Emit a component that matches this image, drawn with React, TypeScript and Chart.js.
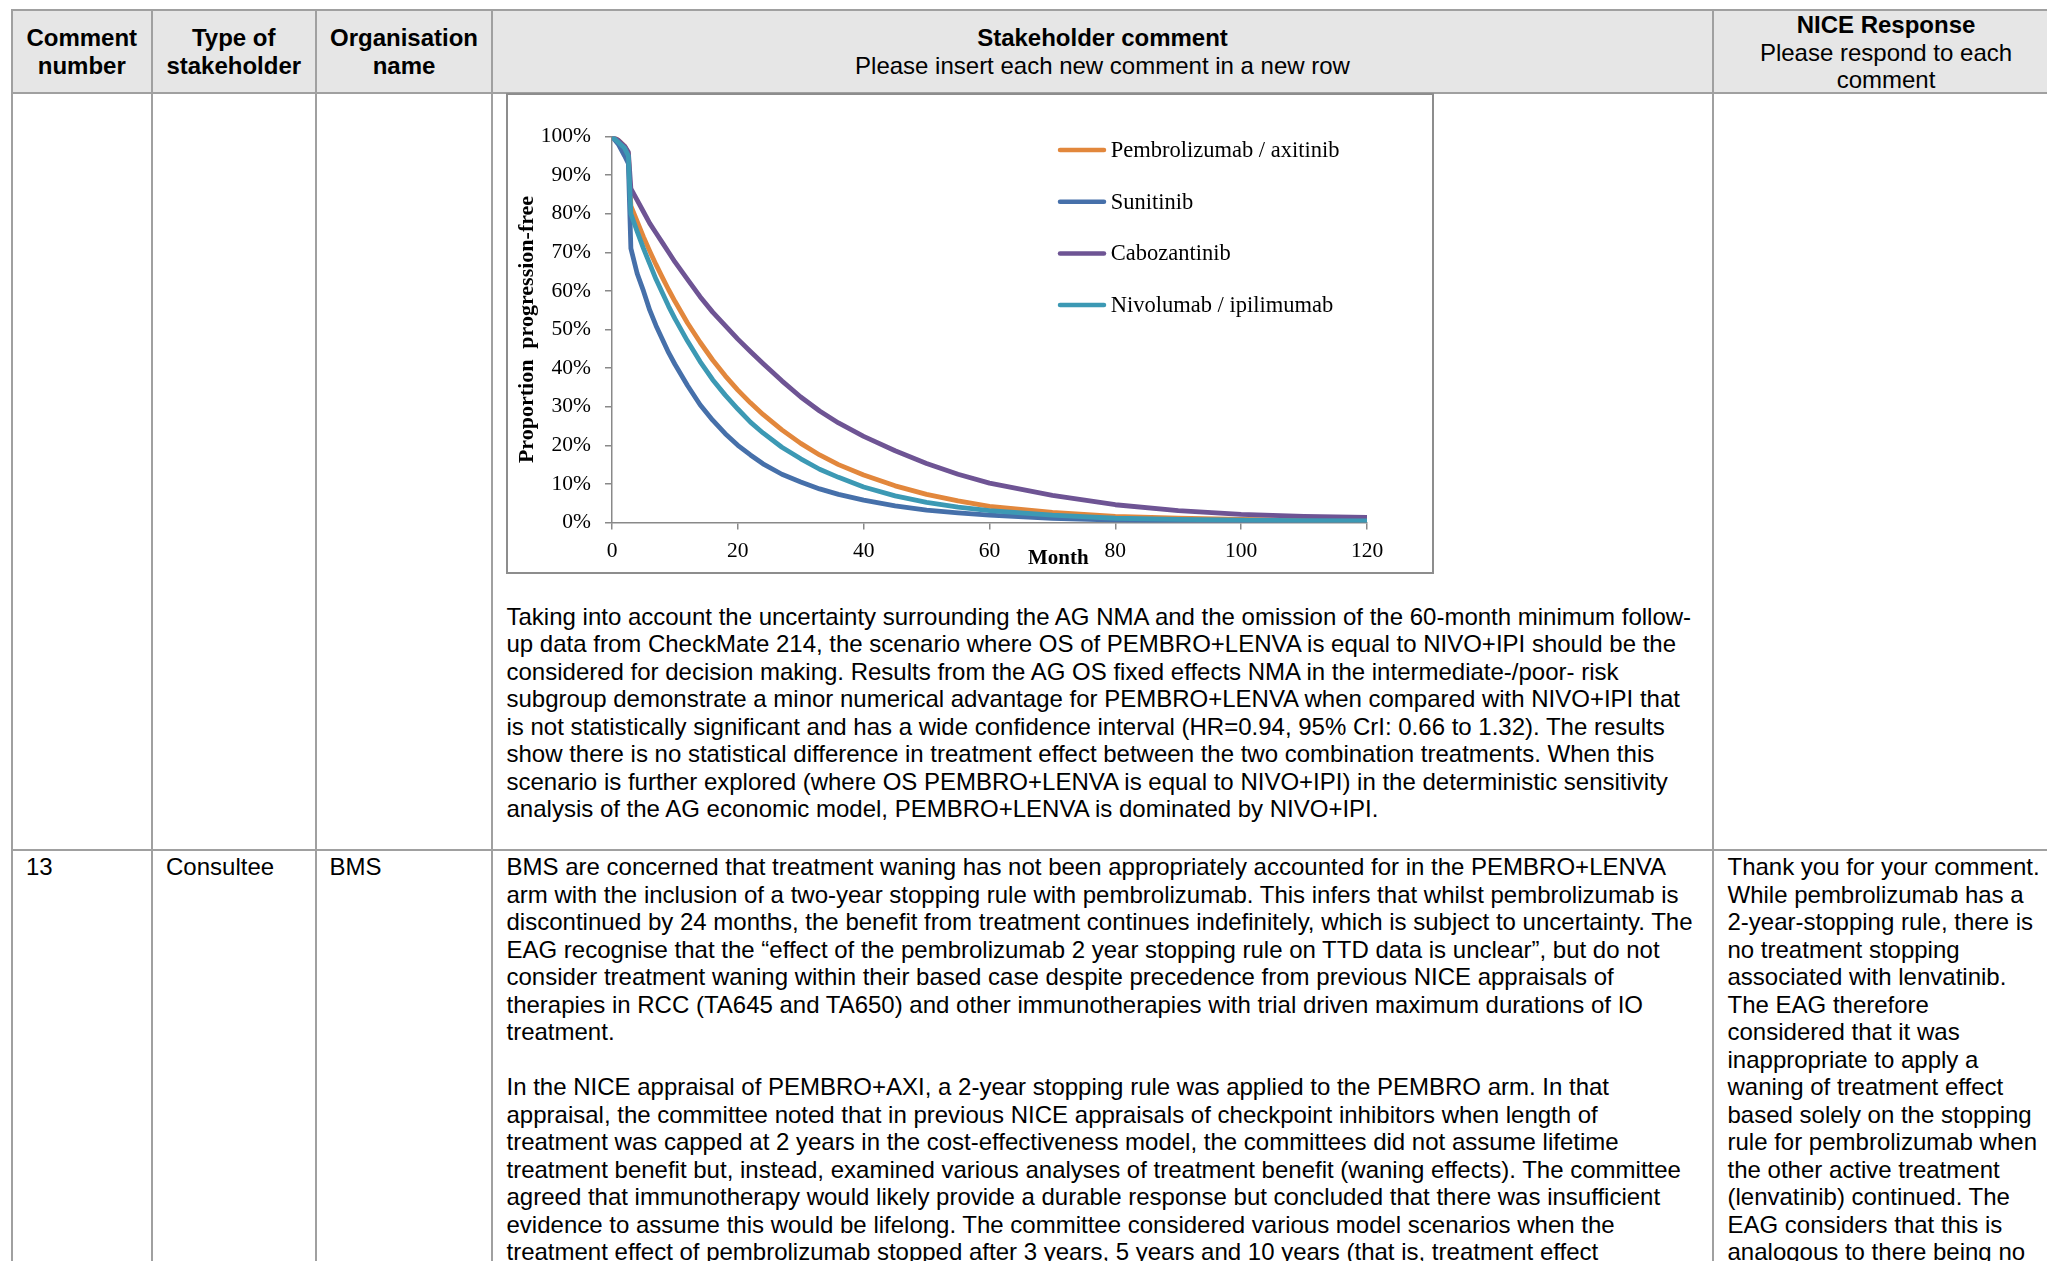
import React, { useEffect, useRef } from "react";
import { Chart, registerables } from "chart.js";

Chart.register(...registerables);

// ---------------- chart data ----------------
const months = [0, 1, 2, 2.6, 3, 4, 5, 6, 7, 8, 9, 10, 12, 14, 16, 18, 20, 22, 24, 27, 30, 33, 36, 40, 45, 50, 55, 60, 70, 80, 90, 100, 110, 120];

const pembroAxi = [100, 99, 97.5, 95.5, 82, 78, 74, 70.3, 66.8, 63.5, 60.3, 57.3, 51.7, 46.7, 42.1, 38, 34.3, 31, 28, 24, 20.5, 17.5, 15, 12.3, 9.5, 7.3, 5.6, 4.2, 2.6, 1.6, 1.1, 0.8, 0.6, 0.5];
const sunitinib = [100, 98, 95, 93, 71, 64.5, 60, 55, 51, 47.5, 44, 41, 35.5, 30.5, 26.5, 23, 20, 17.5, 15.2, 12.5, 10.5, 8.7, 7.3, 5.8, 4.3, 3.2, 2.5, 1.9, 1.1, 0.6, 0.4, 0.3, 0.2, 0.2];
const cabozantinib = [100, 99, 97.5, 96, 86.5, 83.5, 80.5, 77.5, 75, 72.5, 70, 67.5, 63, 58.5, 54.5, 51, 47.5, 44.3, 41.2, 36.7, 32.5, 28.9, 25.8, 22.3, 18.6, 15.3, 12.5, 10.2, 7, 4.6, 3.1, 2.1, 1.6, 1.3];
const nivoIpi = [100, 98.5, 97, 95, 80, 75.4, 71, 67, 63, 59.5, 56, 52.8, 47, 41.7, 37, 33, 29.4, 26, 23.2, 19.5, 16.5, 13.8, 11.7, 9.2, 6.9, 5.2, 4, 3.1, 1.9, 1.1, 0.8, 0.6, 0.5, 0.4];

const seriesLabels = ["Pembrolizumab / axitinib", "Sunitinib", "Cabozantinib", "Nivolumab / ipilimumab"];
const seriesValues = [pembroAxi, sunitinib, cabozantinib, nivoIpi];
const seriesColors = ["#E2873C", "#4670AA", "#6E5494", "#3C99B4"];
const seriesOrder = [3, 2, 1, 0];

const xTitle = "Month";
const yTitle = "Proportion  progression-free";

// ---------------- page text ----------------
const row12Text = [
  "Taking into account the uncertainty surrounding the AG NMA and the omission of the 60-month minimum follow-",
  "up data from CheckMate 214, the scenario where OS of PEMBRO+LENVA is equal to NIVO+IPI should be the",
  "considered for decision making. Results from the AG OS fixed effects NMA in the intermediate-/poor- risk",
  "subgroup demonstrate a minor numerical advantage for PEMBRO+LENVA when compared with NIVO+IPI that",
  "is not statistically significant and has a wide confidence interval (HR=0.94, 95% CrI: 0.66 to 1.32). The results",
  "show there is no statistical difference in treatment effect between the two combination treatments. When this",
  "scenario is further explored (where OS PEMBRO+LENVA is equal to NIVO+IPI) in the deterministic sensitivity",
  "analysis of the AG economic model, PEMBRO+LENVA is dominated by NIVO+IPI.",
];

const row13Text = [
  "BMS are concerned that treatment waning has not been appropriately accounted for in the PEMBRO+LENVA",
  "arm with the inclusion of a two-year stopping rule with pembrolizumab. This infers that whilst pembrolizumab is",
  "discontinued by 24 months, the benefit from treatment continues indefinitely, which is subject to uncertainty. The",
  "EAG recognise that the \u201ceffect of the pembrolizumab 2 year stopping rule on TTD data is unclear\u201d, but do not",
  "consider treatment waning within their based case despite precedence from previous NICE appraisals of",
  "therapies in RCC (TA645 and TA650) and other immunotherapies with trial driven maximum durations of IO",
  "treatment.",
  "",
  "In the NICE appraisal of PEMBRO+AXI, a 2-year stopping rule was applied to the PEMBRO arm. In that",
  "appraisal, the committee noted that in previous NICE appraisals of checkpoint inhibitors when length of",
  "treatment was capped at 2 years in the cost-effectiveness model, the committees did not assume lifetime",
  "treatment benefit but, instead, examined various analyses of treatment benefit (waning effects). The committee",
  "agreed that immunotherapy would likely provide a durable response but concluded that there was insufficient",
  "evidence to assume this would be lifelong. The committee considered various model scenarios when the",
  "treatment effect of pembrolizumab stopped after 3 years, 5 years and 10 years (that is, treatment effect",
];

const row13Response = [
  "Thank you for your comment.",
  "While pembrolizumab has a",
  "2-year-stopping rule, there is",
  "no treatment stopping",
  "associated with lenvatinib.",
  "The EAG therefore",
  "considered that it was",
  "inappropriate to apply a",
  "waning of treatment effect",
  "based solely on the stopping",
  "rule for pembrolizumab when",
  "the other active treatment",
  "(lenvatinib) continued. The",
  "EAG considers that this is",
  "analogous to there being no",
];

const SERIF = '"Liberation Serif", "Times New Roman", serif';
const SANS = '"Liberation Sans", Arial, sans-serif';
const AXIS = "#898989";
const BORDER = "#a0a0a0";
const LH = 27.5;

type Line = { t: string; b?: boolean };

function Block(props: { x: number; y: number; w?: number; align?: "left" | "center"; lines: Line[] }) {
  const { x, y, w, align, lines } = props;
  return (
    <div
      style={{
        position: "absolute",
        left: x,
        top: y,
        width: w,
        textAlign: align || "left",
        lineHeight: LH + "px",
        fontSize: 24,
        whiteSpace: "pre",
        color: "#000",
      }}
    >
      {lines.map((l, i) => (
        <div key={i} style={{ fontWeight: l.b ? 700 : 400, height: LH }}>
          {l.t || "\u00a0"}
        </div>
      ))}
    </div>
  );
}

const plain = (arr: string[]): Line[] => arr.map((t) => ({ t }));

function PfsChart() {
  const ref = useRef<HTMLCanvasElement | null>(null);
  useEffect(() => {
    if (!ref.current) return;
    const overlay = {
      id: "overlay",
      afterDraw(chart: any) {
        const { ctx, chartArea } = chart;
        ctx.save();
        const x0 = chartArea.left + 446;
        chart.data.datasets.forEach((ds: any, i: number) => {
          const y = chartArea.top + 13.5 + i * 51.7;
          ctx.strokeStyle = ds.borderColor;
          ctx.lineWidth = 4.5;
          ctx.lineCap = "round";
          ctx.beginPath();
          ctx.moveTo(x0 + 2, y);
          ctx.lineTo(x0 + 46, y);
          ctx.stroke();
          ctx.fillStyle = "#000";
          ctx.font = `22.5px ${SERIF}`;
          ctx.textAlign = "left";
          ctx.textBaseline = "middle";
          ctx.fillText(ds.label, x0 + 52.7, y + 1);
        });
        ctx.font = `bold 21px ${SERIF}`;
        ctx.textAlign = "center";
        ctx.textBaseline = "middle";
        ctx.fillStyle = "#000";
        ctx.fillText(xTitle, chartArea.left + 446.3, chartArea.bottom + 36);
        ctx.restore();
      },
    };
    const chart = new Chart(ref.current, {
      type: "line",
      data: {
        datasets: seriesLabels.map((label, si) => ({
          label,
          data: months.map((m, i) => ({ x: m, y: seriesValues[si][i] })),
          borderColor: seriesColors[si],
          backgroundColor: seriesColors[si],
          borderWidth: 4.8,
          pointRadius: 0,
          tension: 0,
          fill: false,
          order: seriesOrder[si],
          borderJoinStyle: "round",
        })),
      },
      options: {
        animation: false,
        responsive: false,
        maintainAspectRatio: false,
        layout: { padding: { left: 0, right: 65, top: 41.5, bottom: 0 } },
        plugins: { legend: { display: false }, tooltip: { enabled: false } },
        scales: {
          x: {
            type: "linear",
            min: 0,
            max: 120,
            ticks: { stepSize: 20, color: "#000", font: { family: SERIF, size: 21.5 }, padding: 9, maxRotation: 0 },
            grid: { drawOnChartArea: false, color: AXIS, tickLength: 7, lineWidth: 1.5 },
            border: { color: AXIS, width: 1.5 },
            afterFit: (s: any) => {
              s.height = 49.5;
            },
          },
          y: {
            min: 0,
            max: 100,
            ticks: {
              stepSize: 10,
              color: "#000",
              font: { family: SERIF, size: 21.5 },
              padding: 14,
              callback: (v: any) => v + "%",
            },
            grid: { drawOnChartArea: false, color: AXIS, tickLength: 7, lineWidth: 1.5 },
            border: { color: AXIS, width: 1.5 },
            title: {
              display: true,
              text: yTitle,
              color: "#000",
              font: { family: SERIF, size: 22, weight: "bold" },
              padding: { top: 6, bottom: 0 },
            },
            afterFit: (s: any) => {
              s.width = 104;
            },
          },
        },
      } as any,
      plugins: [overlay],
    });
    return () => chart.destroy();
  }, []);
  return <canvas ref={ref} width={924} height={477} style={{ position: "absolute", left: 508, top: 95, width: 924, height: 477 }} />;
}

export default function App() {
  const vlines = [12, 151.5, 316, 492, 1713];
  const hlines = [10, 93, 850];
  return (
    <div
      style={{
        position: "fixed",
        left: 0,
        top: 0,
        width: 2047,
        height: 1261,
        overflow: "hidden",
        background: "#fff",
        fontFamily: SANS,
      }}
    >
      {/* header background */}
      <div style={{ position: "absolute", left: 12, top: 10, width: 2060, height: 83, background: "#e6e6e6" }} />
      {hlines.map((y, i) => (
        <div key={"h" + i} style={{ position: "absolute", left: 11, top: y - 1, width: 2060, height: 2, background: BORDER }} />
      ))}
      {vlines.map((x, i) => (
        <div key={"v" + i} style={{ position: "absolute", left: x - 1, top: 9, width: 2, height: 1260, background: BORDER }} />
      ))}

      {/* header text */}
      <Block x={12} y={24} w={139.5} align="center" lines={[{ t: "Comment", b: true }, { t: "number", b: true }]} />
      <Block x={151.5} y={24} w={164.5} align="center" lines={[{ t: "Type of", b: true }, { t: "stakeholder", b: true }]} />
      <Block x={316} y={24} w={176} align="center" lines={[{ t: "Organisation", b: true }, { t: "name", b: true }]} />
      <Block x={492} y={24} w={1221} align="center" lines={[{ t: "Stakeholder comment", b: true }, { t: "Please insert each new comment in a new row" }]} />
      <Block x={1713} y={11} w={346} align="center" lines={[{ t: "NICE Response", b: true }, { t: "Please respond to each" }, { t: "comment" }]} />

      {/* chart frame */}
      <div
        style={{
          position: "absolute",
          left: 506,
          top: 93,
          width: 928,
          height: 481,
          border: "2px solid #8d8d8d",
          boxSizing: "border-box",
          background: "#fff",
        }}
      />
      <PfsChart />

      {/* row 12 continuation text */}
      <Block x={506.5} y={602.5} lines={plain(row12Text)} />

      {/* row 13 */}
      <Block x={26} y={853} lines={[{ t: "13" }]} />
      <Block x={166} y={853} lines={[{ t: "Consultee" }]} />
      <Block x={329.5} y={853} lines={[{ t: "BMS" }]} />
      <Block x={506.5} y={853} lines={plain(row13Text)} />
      <Block x={1727.5} y={853} lines={plain(row13Response)} />
    </div>
  );
}
